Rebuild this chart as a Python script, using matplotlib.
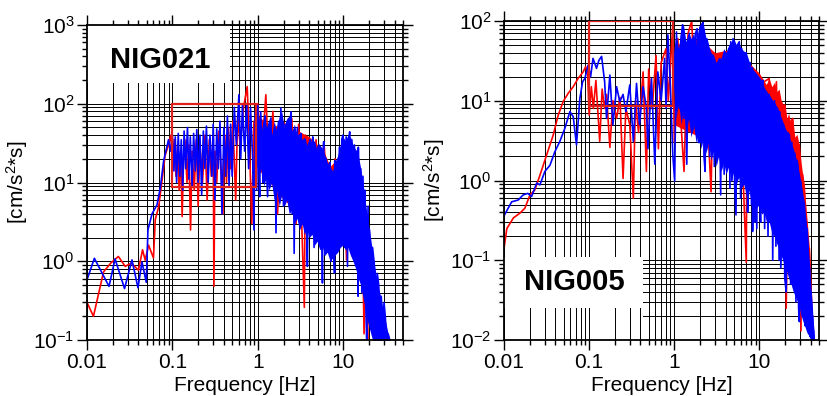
import numpy as np
import matplotlib.pyplot as plt
from matplotlib.patches import Rectangle
from matplotlib.ticker import LogLocator, FixedLocator, FixedFormatter, NullFormatter, LogFormatterSciNotation

plt.rcParams['font.family'] = ['Liberation Sans', 'DejaVu Sans']
plt.rcParams['mathtext.fontset'] = 'custom'
plt.rcParams['mathtext.rm'] = 'Liberation Sans'
plt.rcParams['mathtext.it'] = 'Liberation Sans:italic'

# ---- data: (frequency Hz, amplitude cm/s^2*s) ----
# NIG021 (left)
nig021_blue = np.array([
    (0.0100, 0.58), (0.0122, 1.09), (0.0181, 0.48), (0.0213, 1.07), (0.0275, 0.45),
    (0.0336, 1.04), (0.0395, 0.46), (0.0440, 0.98), (0.0494, 0.54), (0.0517, 2.5),
    (0.0577, 4.0), (0.0660, 5.2), (0.0720, 8.5), (0.0790, 19), (0.0900, 35),
    (0.095, 25), (0.100, 40), (0.104, 14), (0.108, 38), (0.112, 10), (0.117, 42),
    (0.122, 12), (0.127, 35), (0.132, 8), (0.137, 45), (0.143, 15), (0.150, 50),
    (0.156, 11), (0.162, 38), (0.170, 9), (0.177, 42), (0.185, 14), (0.193, 47),
    (0.200, 10), (0.210, 40), (0.220, 7), (0.230, 45), (0.240, 15), (0.250, 52),
    (0.262, 10), (0.275, 40), (0.290, 12), (0.300, 55), (0.315, 6), (0.330, 48),
    (0.345, 15), (0.360, 60), (0.380, 4), (0.400, 50), (0.420, 12), (0.440, 70),
    (0.460, 9), (0.480, 55), (0.500, 12), (0.530, 90), (0.560, 30), (0.600, 130),
    (0.630, 20), (0.660, 95), (0.700, 25), (0.740, 100), (0.780, 15), (0.820, 90),
    (0.870, 20), (0.900, 2.5), (0.930, 80), (0.970, 8), (1.00, 95),
    (1.03, 15), (1.05, 6.6), (1.08, 79), (1.12, 20), (1.15, 10), (1.19, 50),
    (1.22, 70), (1.26, 15), (1.30, 6.6), (1.35, 40), (1.42, 66), (1.48, 12),
    (1.55, 8), (1.58, 45), (1.63, 2.3), (1.68, 40), (1.75, 60), (1.80, 10),
    (1.86, 88), (1.93, 12), (2.00, 5), (2.08, 55), (2.14, 8), (2.20, 60),
    (2.30, 6), (2.37, 50), (2.44, 79), (2.52, 4), (2.60, 45), (2.66, 1.26),
    (2.75, 40), (2.82, 5), (2.90, 50), (3.00, 6), (3.10, 35), (3.20, 42),
    (3.30, 3), (3.40, 30), (3.50, 3), (3.60, 35), (3.70, 4), (3.80, 0.86),
    (3.95, 30), (4.10, 35), (4.20, 2.5), (4.30, 28), (4.40, 38), (4.55, 1.5),
    (4.70, 25), (4.90, 2), (5.05, 28), (5.20, 30), (5.40, 1.8), (5.55, 20),
    (5.70, 0.53), (5.80, 25), (5.90, 33), (6.10, 1.2), (6.30, 20), (6.50, 2),
    (6.75, 16), (7.00, 18), (7.20, 1.0), (7.45, 12), (7.70, 1.5), (7.90, 0.71),
    (7.95, 19), (8.20, 1.4), (8.50, 10), (8.75, 1.8), (9.00, 28), (9.30, 2),
    (9.60, 35), (9.90, 40), (10.2, 2), (10.5, 1.5), (10.8, 38), (11.2, 0.86),
    (11.5, 35), (11.9, 44), (12.3, 1.5), (12.6, 35), (13.0, 2), (13.5, 30),
    (14.0, 1), (14.4, 25), (14.9, 0.36), (15.0, 28), (15.5, 1.0), (16.0, 15),
    (16.5, 0.4), (17.0, 12), (17.5, 0.5), (17.9, 8), (18.3, 0.3), (18.8, 0.1),
    (19.5, 5), (20.0, 0.2), (20.3, 2.5), (21.0, 0.3), (22.0, 1.5), (23.0, 0.95),
    (24.0, 0.2), (25.0, 0.7), (26.0, 0.5), (26.8, 0.15), (27.8, 0.36), (29.0, 0.15),
    (30.0, 0.3), (31.0, 0.2), (32.0, 0.11), (33.5, 0.12), (35.0, 0.1),
])
# dense part of the spectrum: freq, low edge, high edge
nig021_blue_band = np.array([
    (0.95, 20, 30), (1.02, 12, 70), (1.10, 15, 45), (1.18, 9, 75), (1.26, 12, 50),
    (1.35, 8, 65), (1.45, 10, 40), (1.55, 6, 60), (1.66, 8, 45), (1.78, 5, 70),
    (1.90, 7, 80), (2.04, 5, 50), (2.18, 6, 65), (2.33, 4, 70), (2.50, 4.5, 45),
    (2.68, 3, 55), (2.87, 3.5, 40), (3.07, 2.5, 42), (3.30, 3, 35), (3.50, 2.2, 38),
    (3.75, 2.5, 30), (4.00, 2, 36), (4.30, 2.2, 32), (4.60, 1.6, 34), (4.95, 1.8, 25),
    (5.30, 1.4, 30), (5.70, 1.5, 27), (6.10, 1.2, 22), (6.50, 1.3, 18), (7.00, 1.0, 16),
    (7.50, 1.1, 14), (8.00, 1.2, 18), (8.60, 1.3, 22), (9.20, 1.5, 30), (9.90, 1.6, 38),
    (10.6, 1.4, 34), (11.3, 1.5, 40), (12.1, 1.2, 38), (13.0, 1.0, 30), (14.0, 0.8, 26),
    (15.0, 0.6, 22), (16.0, 0.5, 15), (17.0, 0.35, 10), (18.0, 0.25, 6), (19.3, 0.17, 3.5),
    (20.6, 0.13, 2.2), (22.0, 0.1, 1.3), (23.6, 0.09, 0.8), (25.3, 0.09, 0.5),
    (27.0, 0.09, 0.38), (29.0, 0.09, 0.25), (31.0, 0.09, 0.18), (33.0, 0.09, 0.13),
    (35.0, 0.09, 0.1),
])
nig021_red = np.array([
    (0.0100, 0.30), (0.0119, 0.20), (0.0156, 0.73), (0.0190, 0.95), (0.0233, 1.15),
    (0.0280, 0.86), (0.0330, 0.95), (0.0400, 0.77), (0.0447, 1.4), (0.0480, 1.03),
    (0.0526, 1.6), (0.0600, 1.1), (0.0630, 3.4), (0.0690, 4.9), (0.0750, 10),
    (0.0820, 22), (0.0900, 30), (0.0960, 40), (0.100, 20), (0.105, 35), (0.110, 12),
    (0.115, 30), (0.120, 8), (0.125, 25), (0.130, 3.7), (0.135, 20), (0.140, 35),
    (0.148, 10), (0.155, 30), (0.163, 2.5), (0.170, 25), (0.180, 8), (0.190, 35),
    (0.200, 5), (0.210, 30), (0.225, 10), (0.240, 40), (0.255, 6), (0.270, 35),
    (0.285, 12), (0.300, 40), (0.306, 0.48), (0.315, 25), (0.330, 10), (0.350, 45),
    (0.370, 15), (0.390, 4), (0.410, 40), (0.430, 10), (0.450, 50), (0.480, 15),
    (0.510, 60), (0.550, 6), (0.580, 70), (0.620, 30), (0.680, 90), (0.750, 165),
    (0.790, 40), (0.850, 3), (0.900, 60), (0.950, 15), (1.00, 100), (1.10, 20),
    (1.24, 130), (1.35, 15), (1.50, 80), (1.70, 4), (1.90, 70), (2.20, 10),
    (2.50, 65), (2.80, 3), (3.00, 55), (3.50, 0.26), (3.60, 40), (4.20, 5),
    (4.80, 35), (5.50, 2), (6.00, 28), (7.00, 1.5), (8.00, 20), (9.00, 3),
    (10.0, 30), (10.9, 1.04), (11.5, 25), (13.0, 3), (14.0, 15), (15.5, 0.6),
    (16.5, 8), (17.5, 0.12), (18.5, 1.5), (19.5, 0.1),
])
nig021_red_band = np.array([
    (1.0, 15, 70), (1.5, 9, 50), (2.0, 6, 60), (2.5, 5, 45), (3.0, 3.5, 45),
    (4.0, 2.5, 38), (5.0, 2, 30), (6.0, 1.6, 24), (7.0, 1.4, 16), (8.5, 1.6, 20),
    (10.0, 1.8, 26), (12.0, 1.5, 22), (13.5, 1.2, 18), (15.0, 0.8, 10), (16.5, 0.6, 5),
    (18.0, 0.3, 1.5), (19.5, 0.15, 0.2),
])

# NIG005 (right)
nig005_blue = np.array([
    (0.0100, 0.36), (0.0123, 0.54), (0.0147, 0.57), (0.0168, 0.66), (0.0190, 0.69),
    (0.0211, 0.63), (0.0242, 0.93), (0.0264, 0.88), (0.0302, 1.3), (0.0346, 1.55),
    (0.0396, 2.3), (0.0453, 3.1), (0.0518, 4.5), (0.0594, 7.3), (0.0650, 6.3),
    (0.0710, 2.8), (0.0778, 10.7), (0.0837, 17.3), (0.0890, 19), (0.0973, 28),
    (0.104, 20), (0.111, 34), (0.122, 25.5), (0.130, 32), (0.140, 36), (0.152, 17.3),
    (0.160, 6.0), (0.175, 21), (0.190, 5), (0.210, 15), (0.229, 9.7), (0.250, 12),
    (0.270, 7.3), (0.300, 15.8), (0.330, 3.1), (0.360, 16.5), (0.390, 5), (0.430, 15),
    (0.470, 8.1), (0.490, 2.5), (0.540, 19), (0.590, 1.6), (0.640, 23), (0.700, 10),
    (0.770, 34), (0.800, 8), (0.840, 67), (0.900, 15), (0.960, 2.1), (1.01, 0.98),
    (1.06, 73), (1.10, 10), (1.15, 8), (1.20, 60), (1.25, 90), (1.30, 6),
    (1.35, 50), (1.40, 1.6), (1.47, 55), (1.55, 60), (1.62, 4), (1.70, 5),
    (1.77, 70), (1.85, 80), (1.92, 3), (2.00, 3), (2.08, 85), (2.17, 98),
    (2.23, 2), (2.30, 1.3), (2.40, 60), (2.50, 50), (2.60, 2), (2.70, 35),
    (2.85, 37), (2.95, 1.5), (3.05, 30), (3.20, 4), (3.35, 30), (3.50, 0.66),
    (3.60, 25), (3.70, 34), (3.85, 1.2), (4.00, 40), (4.20, 3), (4.35, 45),
    (4.50, 0.8), (4.60, 55), (4.75, 1.0), (4.90, 60), (5.10, 0.9), (5.30, 0.37),
    (5.50, 50), (5.80, 55), (6.00, 0.6), (6.20, 45), (6.50, 2), (6.75, 38),
    (7.00, 40), (7.25, 0.4), (7.50, 1), (7.80, 30), (8.05, 0.5), (8.25, 26),
    (8.30, 0.23), (8.60, 22), (8.80, 0.3), (9.00, 20), (9.30, 0.25), (9.60, 18),
    (10.0, 1), (10.3, 0.3), (10.6, 17), (11.0, 18), (11.5, 0.25), (12.1, 13),
    (12.6, 0.2), (13.0, 12), (13.6, 0.3), (14.0, 10), (14.3, 0.1), (15.0, 10),
    (15.6, 0.15), (16.3, 8), (17.0, 0.1), (17.2, 7.3), (17.8, 0.08), (18.5, 0.3),
    (19.2, 5), (19.8, 0.06), (20.6, 0.04), (21.5, 4), (22.5, 3.7), (23.2, 0.05),
    (24.0, 3), (25.0, 0.1), (26.0, 2.2), (26.8, 0.03), (27.5, 1.8), (28.2, 1.6),
    (28.8, 0.025), (29.4, 0.017), (30.2, 1.0), (31.0, 0.8), (31.8, 0.02), (32.5, 0.6),
    (33.7, 0.5), (34.5, 0.015), (35.5, 0.02), (36.2, 0.25), (37.0, 0.15), (37.8, 0.012),
    (38.6, 0.08), (39.5, 0.011), (40.2, 0.04), (41.0, 0.012), (42.0, 0.02), (44.0, 0.01),
])
nig005_blue_band = np.array([
    (0.98, 15, 40), (1.05, 6, 70), (1.12, 10, 45), (1.20, 5, 80), (1.28, 8, 90),
    (1.37, 4, 55), (1.47, 6, 75), (1.57, 3.5, 60), (1.68, 5, 70), (1.80, 3, 50),
    (1.93, 4, 85), (2.06, 2.5, 95), (2.20, 3.5, 90), (2.36, 2.2, 60), (2.52, 3, 50),
    (2.70, 1.8, 40), (2.90, 2.4, 37), (3.10, 1.5, 30), (3.30, 2, 35), (3.55, 1.3, 34),
    (3.80, 1.7, 45), (4.05, 1.2, 40), (4.35, 1.5, 50), (4.65, 1.0, 55), (5.00, 1.3, 60),
    (5.35, 0.9, 50), (5.70, 1.1, 55), (6.10, 0.8, 45), (6.55, 0.9, 42), (7.00, 0.65, 40),
    (7.50, 0.75, 32), (8.00, 0.55, 26), (8.60, 0.6, 24), (9.20, 0.45, 22), (9.90, 0.5, 20),
    (10.6, 0.38, 18), (11.3, 0.4, 15), (12.1, 0.3, 13), (13.0, 0.3, 12), (14.0, 0.22, 10.5),
    (15.0, 0.2, 9.5), (16.0, 0.16, 8.5), (17.0, 0.14, 7.3), (18.2, 0.11, 6), (19.4, 0.09, 5),
    (20.7, 0.075, 4.2), (22.0, 0.06, 3.7), (23.5, 0.05, 3), (25.0, 0.04, 2.5),
    (26.5, 0.035, 2), (28.0, 0.03, 1.6), (29.5, 0.025, 1.2), (31.0, 0.02, 0.9),
    (32.5, 0.017, 0.65), (34.0, 0.015, 0.45), (35.5, 0.013, 0.3), (37.0, 0.012, 0.18),
    (38.5, 0.011, 0.1), (40.0, 0.01, 0.05), (41.5, 0.009, 0.03), (43.0, 0.009, 0.015),
    (44.5, 0.009, 0.01),
])
nig005_red = np.array([
    (0.0100, 0.14), (0.0108, 0.25), (0.0129, 0.34), (0.0154, 0.39), (0.0176, 0.45),
    (0.0202, 0.66), (0.0230, 0.76), (0.0264, 1.16), (0.0317, 2.1), (0.0378, 3.7),
    (0.0433, 6.6), (0.0496, 9.8), (0.0567, 12.4), (0.0650, 15), (0.0740, 19),
    (0.0850, 23), (0.0910, 26.8), (0.0960, 22), (0.100, 6.6), (0.106, 15),
    (0.112, 8), (0.120, 18), (0.133, 3.1), (0.142, 14), (0.152, 8), (0.160, 12),
    (0.175, 2.6), (0.190, 10), (0.210, 6), (0.230, 11), (0.250, 1.06), (0.270, 8),
    (0.300, 5), (0.330, 0.6), (0.350, 10), (0.380, 4), (0.430, 23), (0.470, 1.3),
    (0.500, 25), (0.550, 8), (0.610, 37), (0.650, 2.5), (0.700, 30), (0.800, 45),
    (0.850, 10), (0.960, 89), (1.00, 3), (1.10, 60), (1.20, 5), (1.30, 1.3),
    (1.45, 70), (1.60, 100), (1.80, 6), (2.00, 75), (2.40, 10), (2.70, 0.72),
    (2.90, 40), (3.30, 20), (3.80, 2), (4.20, 35), (4.80, 5), (5.50, 45),
    (6.20, 3), (7.00, 0.094), (7.20, 30), (8.00, 5), (9.00, 22), (10.0, 3),
    (11.0, 17), (13.0, 19), (14.0, 1), (15.8, 17.3), (17.0, 0.5), (19.8, 8.9),
    (20.6, 0.025), (22.0, 5), (24.6, 6.0), (26.0, 0.5), (29.4, 2.8), (30.7, 0.013),
    (32.0, 1.2), (33.7, 0.8), (36.0, 0.05), (38.6, 0.14), (40.0, 0.02), (42.0, 0.02),
])
nig005_red_band = np.array([
    (1.0, 5, 50), (2.0, 3.5, 60), (3.0, 2.5, 40), (5.0, 1.6, 45), (8.0, 0.8, 28),
    (10.0, 0.6, 22), (12.0, 0.45, 16), (13.0, 0.4, 19), (14.0, 0.33, 15), (15.0, 0.3, 17),
    (16.0, 0.25, 13), (17.0, 0.2, 14), (18.0, 0.17, 10), (19.0, 0.14, 9), (20.0, 0.12, 8.9),
    (21.0, 0.1, 6), (22.0, 0.09, 7), (23.0, 0.075, 5.5), (24.6, 0.06, 6), (26.0, 0.05, 3.5),
    (27.5, 0.045, 3.8), (29.4, 0.035, 2.8), (31.0, 0.028, 1.6), (33.7, 0.02, 0.8),
    (36.0, 0.015, 0.35), (38.6, 0.013, 0.14), (40.0, 0.012, 0.07), (42.0, 0.011, 0.02),
])

xticks = [0.01, 0.1, 1, 10]
xticklabels = ['0.01', '0.1', '1', '10']

fig = plt.figure(figsize=(8.27, 3.96), dpi=100)
W, H = 827, 396


def setup(ax, ylim):
    ax.set_xscale('log')
    ax.set_yscale('log')
    ax.set_xlim(0.01, 50)
    ax.set_ylim(*ylim)
    ax.xaxis.set_major_locator(FixedLocator(xticks))
    ax.xaxis.set_major_formatter(FixedFormatter(xticklabels))
    ax.xaxis.set_minor_locator(LogLocator(base=10, subs=np.arange(2, 10), numticks=20))
    ax.xaxis.set_minor_formatter(NullFormatter())
    ax.yaxis.set_major_locator(LogLocator(base=10, numticks=20))
    ax.yaxis.set_major_formatter(LogFormatterSciNotation())
    ax.yaxis.set_minor_locator(LogLocator(base=10, subs=np.arange(2, 10), numticks=20))
    ax.yaxis.set_minor_formatter(NullFormatter())
    ax.grid(True, which='both', color='black', lw=0.7)
    ax.tick_params(which='both', direction='out', top=True, right=True, width=1.0,
                   labelsize=15, pad=2)
    ax.tick_params(which='major', length=7)
    ax.tick_params(which='minor', length=3.5)
    for s in ax.spines.values():
        s.set_linewidth(1.3)
    # y grid under x grid so that some white patches can hide only the y lines
    ax.yaxis.set_zorder(0.4)
    ax.xaxis.set_zorder(0.6)
    ax.set_xlabel('Frequency [Hz]', fontsize=15, labelpad=3)
    ax.set_ylabel('[cm/s$^2$*s]', fontsize=15, labelpad=2)


def draw(ax, red, red_band, blue, blue_band, box):
    ax.fill_between(red_band[:, 0], red_band[:, 1], red_band[:, 2], color='red', lw=0, zorder=2)
    ax.plot(red[:, 0], red[:, 1], color='red', lw=1.2, zorder=2.1)
    ax.fill_between(blue_band[:, 0], blue_band[:, 1], blue_band[:, 2], color='blue', lw=0, zorder=2.2)
    ax.plot(blue[:, 0], blue[:, 1], color='blue', lw=1.2, zorder=2.3)
    ax.add_patch(Rectangle((box[0], box[2]), box[1] - box[0], box[3] - box[2],
                           fill=False, ec='#e0201c', lw=1.6, zorder=3))


ax1 = fig.add_axes([87 / W, 56 / H, 316 / W, 315 / H])
setup(ax1, (0.1, 1000))
draw(ax1, nig021_red, nig021_red_band, nig021_blue, nig021_blue_band, (0.1, 0.96, 8.8, 100))
ax1.add_patch(Rectangle((0, 1 - 58 / 315), 143 / 316, 58 / 315, transform=ax1.transAxes,
                        fc='white', ec='none', zorder=0.8))
ax1.text(73 / 316, 1 - 35 / 315, 'NIG021', transform=ax1.transAxes, fontsize=21,
         fontweight='bold', ha='center', va='center', zorder=4)

ax2 = fig.add_axes([504 / W, 56 / H, 315 / W, 319 / H])
setup(ax2, (0.01, 100))
draw(ax2, nig005_red, nig005_red_band, nig005_blue, nig005_blue_band, (0.1, 0.96, 8.6, 100))
ax2.add_patch(Rectangle((0, 0), 139 / 315, 83 / 319, transform=ax2.transAxes,
                        fc='white', ec='none', zorder=0.5))
ax2.add_patch(Rectangle((0, 32 / 319), 139 / 315, 51 / 319, transform=ax2.transAxes,
                        fc='white', ec='none', zorder=0.8))
ax2.text(70 / 315, 58 / 319, 'NIG005', transform=ax2.transAxes, fontsize=21,
         fontweight='bold', ha='center', va='center', zorder=4)

fig.savefig('out.png', dpi=100)
